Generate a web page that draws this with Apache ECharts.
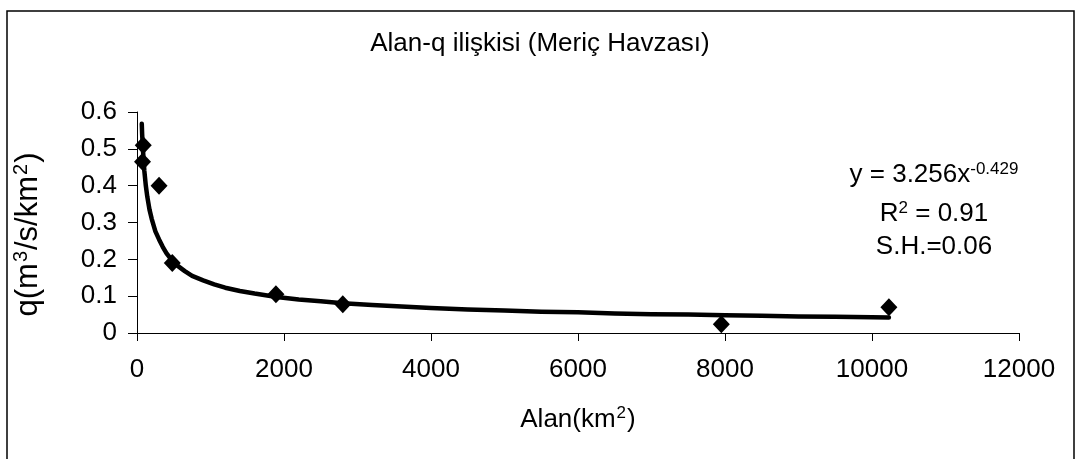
<!DOCTYPE html>
<html>
<head>
<meta charset="utf-8">
<script src="https://cdn.jsdelivr.net/npm/echarts@6/dist/echarts.min.js"></script>
<style>
html,body{margin:0;padding:0;background:#fff;}
#chart{width:1080px;height:459px;}
</style>
</head>
<body>
<div id="chart"></div>
<script>
// Observed points (Alan km², q m3/s/km2)
var pointX = [75, 85, 300, 480, 1890, 2800, 7950, 10230];
var pointY = [0.465, 0.51, 0.40, 0.19, 0.105, 0.078, 0.024, 0.07];
// Trend curve as drawn
var trendX = [65, 70, 80, 90, 100, 120, 140, 170, 200, 250, 300, 350, 400, 480, 550, 650, 750, 900, 1050, 1200, 1400, 1600, 1900, 2200, 2500, 2800, 3200, 3600, 4000, 4500, 5000, 5500, 6000, 6500, 7000, 7500, 8000, 8500, 9000, 9500, 10000, 10230];
var trendY = [0.568, 0.54, 0.50, 0.47, 0.44, 0.40, 0.37, 0.335, 0.31, 0.276, 0.254, 0.234, 0.217, 0.196, 0.183, 0.168, 0.155, 0.143, 0.132, 0.123, 0.114, 0.107, 0.098, 0.091, 0.086, 0.081, 0.076, 0.072, 0.068, 0.064, 0.061, 0.058, 0.056, 0.053, 0.051, 0.050, 0.048, 0.047, 0.045, 0.044, 0.043, 0.042];
var xTicks = [0, 2000, 4000, 6000, 8000, 10000, 12000];
var yTicks = [0, 0.1, 0.2, 0.3, 0.4, 0.5, 0.6];
var titleText = 'Alan-q ilişkisi (Meriç Havzası)';
var eqLines = ['y = 3.256x', '-0.429', 'R', '2', ' = 0.91', 'S.H.=0.06'];

var FONT = '"Liberation Sans", Arial, sans-serif';
var chart = echarts.init(document.getElementById('chart'), null, {renderer: 'canvas'});

function zip(a, b) { return a.map(function (v, i) { return [v, b[i]]; }); }

var option = {
  animation: false,
  backgroundColor: '#fff',
  textStyle: {fontFamily: FONT, color: '#000'},
  title: {
    text: titleText,
    left: 'center',
    top: 26,
    textStyle: {fontFamily: FONT, fontSize: 26, fontWeight: 'normal', color: '#000'}
  },
  grid: {left: 137, right: 61, top: 112, bottom: 126, containLabel: false},
  xAxis: {
    type: 'value',
    min: xTicks[0], max: xTicks[xTicks.length - 1], interval: 2000,
    name: '{n|Alan(km}{s|2}{n|)}',
    nameLocation: 'middle',
    nameGap: 72,
    nameTextStyle: {
      rich: {
        n: {fontFamily: FONT, fontSize: 26, color: '#000'},
        s: {fontFamily: FONT, fontSize: 17, color: '#000', verticalAlign: 'top', padding: [0, 1, 12, 1]}
      }
    },
    axisLine: {lineStyle: {color: '#000', width: 1}},
    axisTick: {show: true, length: 8, inside: false, lineStyle: {color: '#000'}},
    axisLabel: {fontFamily: FONT, fontSize: 26, color: '#000', margin: 24,
      formatter: function (v) { return String(v); }},
    splitLine: {show: false}
  },
  yAxis: {
    type: 'value',
    min: yTicks[0], max: yTicks[yTicks.length - 1], interval: 0.1,
    name: '{n|q(m}{s|3}{n|/s/km}{s|2}{n|)}',
    nameLocation: 'middle',
    nameGap: 92,
    nameRotate: 90,
    nameTextStyle: {
      padding: [0, 24, 0, 0],
      rich: {
        n: {fontFamily: FONT, fontSize: 31, color: '#000'},
        s: {fontFamily: FONT, fontSize: 20, color: '#000', verticalAlign: 'top', padding: [0, 1, 14, 1]}
      }
    },
    axisLine: {show: true, lineStyle: {color: '#000', width: 1}},
    axisTick: {show: true, length: 9, inside: false, lineStyle: {color: '#000'}},
    axisLabel: {fontFamily: FONT, fontSize: 26, color: '#000', margin: 20,
      formatter: function (v) { return String(v); }},
    splitLine: {show: false}
  },
  series: [
    {
      type: 'line',
      data: zip(trendX, trendY),
      smooth: false,
      showSymbol: false,
      lineStyle: {color: '#000', width: 4.5, join: 'round', cap: 'round'},
      z: 2
    },
    {
      type: 'scatter',
      data: zip(pointX, pointY),
      symbol: 'diamond',
      symbolSize: [17, 18],
      itemStyle: {color: '#000', opacity: 1},
      z: 3
    }
  ],
  graphic: [
    {
      type: 'rect',
      shape: {x: 7, y: 11, width: 1067, height: 470},
      style: {fill: 'none', stroke: '#000', lineWidth: 1.5},
      silent: true
    },
    {
      type: 'text',
      x: 934, y: 175,
      style: {
        text: '{n|' + eqLines[0] + '}{s|' + eqLines[1] + '}',
        rich: {
          n: {fontFamily: FONT, fontSize: 26, fill: '#000'},
          s: {fontFamily: FONT, fontSize: 17, fill: '#000', verticalAlign: 'top', padding: [0, 0, 12, 0]}
        },
        align: 'center', verticalAlign: 'middle'
      }
    },
    {
      type: 'text',
      x: 934, y: 214,
      style: {
        text: '{n|' + eqLines[2] + '}{s|' + eqLines[3] + '}{n|' + eqLines[4] + '}',
        rich: {
          n: {fontFamily: FONT, fontSize: 26, fill: '#000'},
          s: {fontFamily: FONT, fontSize: 17, fill: '#000', verticalAlign: 'top', padding: [0, 0, 12, 0]}
        },
        align: 'center', verticalAlign: 'middle'
      }
    },
    {
      type: 'text',
      x: 934, y: 247,
      style: {
        text: eqLines[5],
        font: '26px ' + FONT,
        fill: '#000',
        align: 'center', verticalAlign: 'middle'
      }
    }
  ]
};
chart.setOption(option);
</script>
</body>
</html>
